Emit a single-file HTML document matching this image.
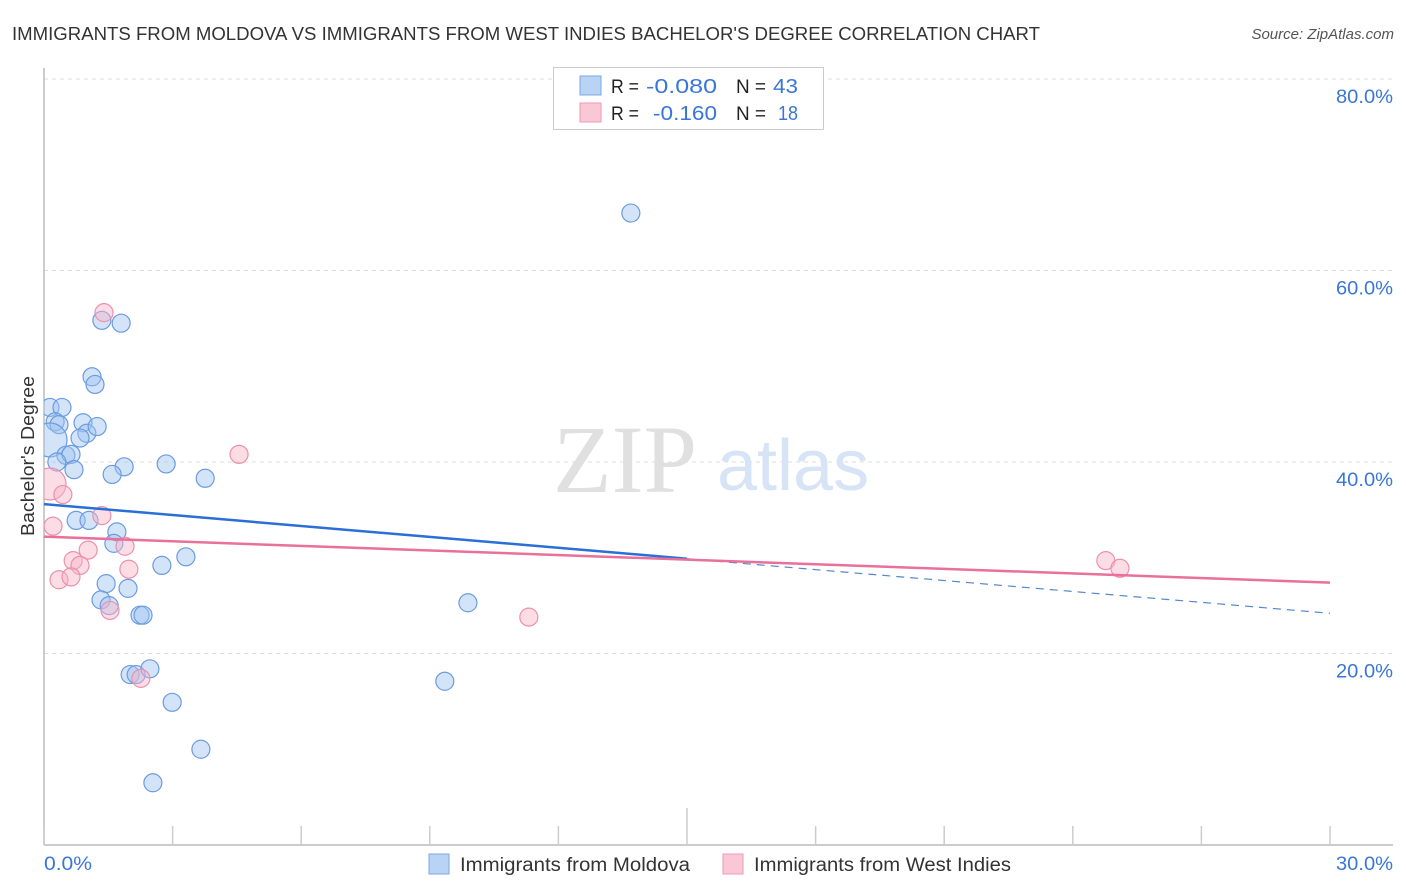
<!DOCTYPE html>
<html><head><meta charset="utf-8">
<style>
html,body{margin:0;padding:0;background:#fff;}
svg{display:block;font-family:"Liberation Sans",sans-serif;}
</style></head>
<body>
<svg id="chart" width="1406" height="892" viewBox="0 0 1406 892" xmlns="http://www.w3.org/2000/svg">
<defs><clipPath id="plotclip"><rect x="44" y="60" width="1360" height="785"/></clipPath></defs>
<text x="12" y="40" font-size="18" fill="#333" textLength="1028" lengthAdjust="spacingAndGlyphs">IMMIGRANTS FROM MOLDOVA VS IMMIGRANTS FROM WEST INDIES BACHELOR'S DEGREE CORRELATION CHART</text>
<text x="1394" y="39" font-size="15" fill="#555" text-anchor="end" font-style="italic">Source: ZipAtlas.com</text>
<g id="grid"></g>
<g>
<text x="553" y="492" font-family="'Liberation Serif',serif" font-size="96" fill="#e0e0e0">ZIP</text>
<text x="717" y="490" font-size="72" fill="#d6e4f6">atlas</text>
</g>
<line x1="44" y1="68" x2="44" y2="845" stroke="#bbb" stroke-width="1.5"/>
<line x1="44" y1="845" x2="1393" y2="845" stroke="#bbb" stroke-width="1.5"/>
<g id="xticks"></g>
<g id="ylabels"></g>
<text transform="translate(34,456) rotate(-90)" font-size="18" fill="#333" text-anchor="middle" textLength="160" lengthAdjust="spacingAndGlyphs">Bachelor's Degree</text>
<g id="points" clip-path="url(#plotclip)"></g>
<g id="trends"></g>
<g>
<rect x="553.5" y="67.5" width="270" height="62" fill="#fff" stroke="#ccc"/>
<g>
<rect x="580" y="76" width="21" height="19" fill="#b9d3f5" stroke="#7ea6e3"/>
<text x="611" y="93" font-size="19" fill="#222" textLength="28" lengthAdjust="spacingAndGlyphs">R =</text>
<text x="646" y="93" font-size="20" fill="#3a76d8" textLength="71" lengthAdjust="spacingAndGlyphs">-0.080</text>
<text x="736" y="93" font-size="19" fill="#222" textLength="30" lengthAdjust="spacingAndGlyphs">N =</text>
<text x="773" y="93" font-size="20" fill="#3a76d8" textLength="25" lengthAdjust="spacingAndGlyphs">43</text>
</g>
<g>
<rect x="580" y="103" width="21" height="19" fill="#fac7d6" stroke="#ee9ab4"/>
<text x="611" y="120" font-size="19" fill="#222" textLength="28" lengthAdjust="spacingAndGlyphs">R =</text>
<text x="653" y="120" font-size="20" fill="#3a76d8" textLength="64" lengthAdjust="spacingAndGlyphs">-0.160</text>
<text x="736" y="120" font-size="19" fill="#222" textLength="30" lengthAdjust="spacingAndGlyphs">N =</text>
<text x="778" y="120" font-size="20" fill="#3a76d8" textLength="20" lengthAdjust="spacingAndGlyphs">18</text>
</g>
</g>
<g>
<g>
<rect x="429" y="854" width="20" height="20" fill="#b9d3f5" stroke="#7ea6e3"/>
<text x="460" y="871" font-size="19" fill="#333" textLength="230" lengthAdjust="spacingAndGlyphs">Immigrants from Moldova</text>
</g>
<g>
<rect x="723" y="854" width="20" height="20" fill="#fac7d6" stroke="#ee9ab4"/>
<text x="754" y="871" font-size="19" fill="#333" textLength="257" lengthAdjust="spacingAndGlyphs">Immigrants from West Indies</text>
</g>
</g>
</svg>
<script>
const xTicks = [0,3,6,9,12,15,18,21,24,27,30];
const xTickLabels = ["0.0%","30.0%"];
const yTicks = [20,40,60,80];
const yTickLabels = ["20.0%","40.0%","60.0%","80.0%"];
const moldovaX = [13.69,1.35,1.80,1.12,1.19,0.14,0.42,0.26,0.35,0.91,1.00,1.24,0.84,0.14,0.51,0.63,0.30,0.70,1.87,2.85,1.59,3.76,0.75,1.05,1.70,1.63,3.31,2.75,1.45,1.96,1.33,1.52,9.89,2.24,2.31,2.01,2.15,2.47,9.35,2.99,3.66,2.54];
const moldovaY = [66.0,54.8,54.5,48.9,48.1,45.7,45.7,44.2,43.9,44.1,43.0,43.7,42.5,42.3,40.7,40.8,40.0,39.2,39.5,39.8,38.7,38.3,33.9,33.9,32.7,31.5,30.1,29.2,27.3,26.8,25.6,25.0,25.3,24.0,24.0,17.8,17.8,18.4,17.1,14.9,10.0,6.5];
const moldovaR = [9,9,9,9,9,9,9,9,9,9,9,9,9,17,9,9,9,9,9,9,9,9,9,9,9,9,9,9,9,9,9,9,9,9,9,9,9,9,9,9,9,9];
const westIndiesX = [1.40,4.55,0.14,0.44,1.35,0.21,1.03,0.68,0.84,1.89,1.98,0.35,0.63,1.54,2.26,11.31,24.77,25.10];
const westIndiesY = [55.6,40.8,37.7,36.6,34.4,33.3,30.8,29.7,29.2,31.2,28.8,27.7,28.0,24.5,17.4,23.8,29.7,28.9];
const westIndiesR = [9,9,16,9,9,9,9,9,9,9,9,9,9,9,9,9,9,9];
const moldovaTrend = [35.6,24.2];
const moldovaSolidEnd = 15;
const westIndiesTrend = [32.2,27.4];

const NS="http://www.w3.org/2000/svg";
const X0=44,X1=1330,Y0=845,YPER=9.575;
const sx=v=>X0+(X1-X0)*v/30;
const sy=v=>Y0-v*YPER;
function mk(tag,attrs,parent){const e=document.createElementNS(NS,tag);for(const k in attrs)e.setAttribute(k,attrs[k]);parent.appendChild(e);return e;}
const grid=document.getElementById('grid'),xt=document.getElementById('xticks'),yl=document.getElementById('ylabels'),pts=document.getElementById('points'),tr=document.getElementById('trends');
yTicks.forEach((v,i)=>{
  const l=mk('line',{x1:44,x2:1393,y1:sy(v),y2:sy(v),stroke:'#ddd','stroke-dasharray':'4,4'},grid);
  
  
  const t=mk('text',{x:1393,y:sy(v)+24,'font-size':19,fill:'#3a76d8','text-anchor':'end',textLength:57,lengthAdjust:'spacingAndGlyphs'},yl);
  t.textContent=yTickLabels[i];
  
  
});
xTicks.forEach((v,i)=>{
  const top=(v===15)?808:826;
  const l=mk('line',{x1:sx(v),x2:sx(v),y1:top,y2:845,stroke:'#ccc','stroke-width':1.5},xt);
  
  
});
const xl0=mk('text',{x:44,y:870,'font-size':19,fill:'#3a76d8',textLength:48,lengthAdjust:'spacingAndGlyphs'},xt);
xl0.textContent=xTickLabels[0];


const xl1=mk('text',{x:1393,y:870,'font-size':19,fill:'#3a76d8','text-anchor':'end',textLength:57,lengthAdjust:'spacingAndGlyphs'},xt);
xl1.textContent=xTickLabels[1];



moldovaX.forEach((v,i)=>{
  const c=mk('circle',{cx:sx(v),cy:sy(moldovaY[i]),r:moldovaR[i],fill:'rgba(160,196,240,0.45)',stroke:'#6b9be0','stroke-width':1.2},pts);
  
  
});
westIndiesX.forEach((v,i)=>{
  const c=mk('circle',{cx:sx(v),cy:sy(westIndiesY[i]),r:westIndiesR[i],fill:'rgba(248,180,200,0.45)',stroke:'#ec90ad','stroke-width':1.2},pts);
  
  
});
const mAt=x=>moldovaTrend[0]+(moldovaTrend[1]-moldovaTrend[0])*x/30;
const t1=mk('line',{x1:sx(0),y1:sy(mAt(0)),x2:sx(moldovaSolidEnd),y2:sy(mAt(moldovaSolidEnd)),stroke:'#2a6fd6','stroke-width':2.5},tr);


const t2=mk('line',{x1:sx(moldovaSolidEnd),y1:sy(mAt(moldovaSolidEnd)),x2:sx(30),y2:sy(mAt(30)),stroke:'#5588cc','stroke-width':1.2,'stroke-dasharray':'8,6'},tr);


const t3=mk('line',{x1:sx(0),y1:sy(westIndiesTrend[0]),x2:sx(30),y2:sy(westIndiesTrend[1]),stroke:'#e8709a','stroke-width':2.5},tr);


</script>
</body></html>
